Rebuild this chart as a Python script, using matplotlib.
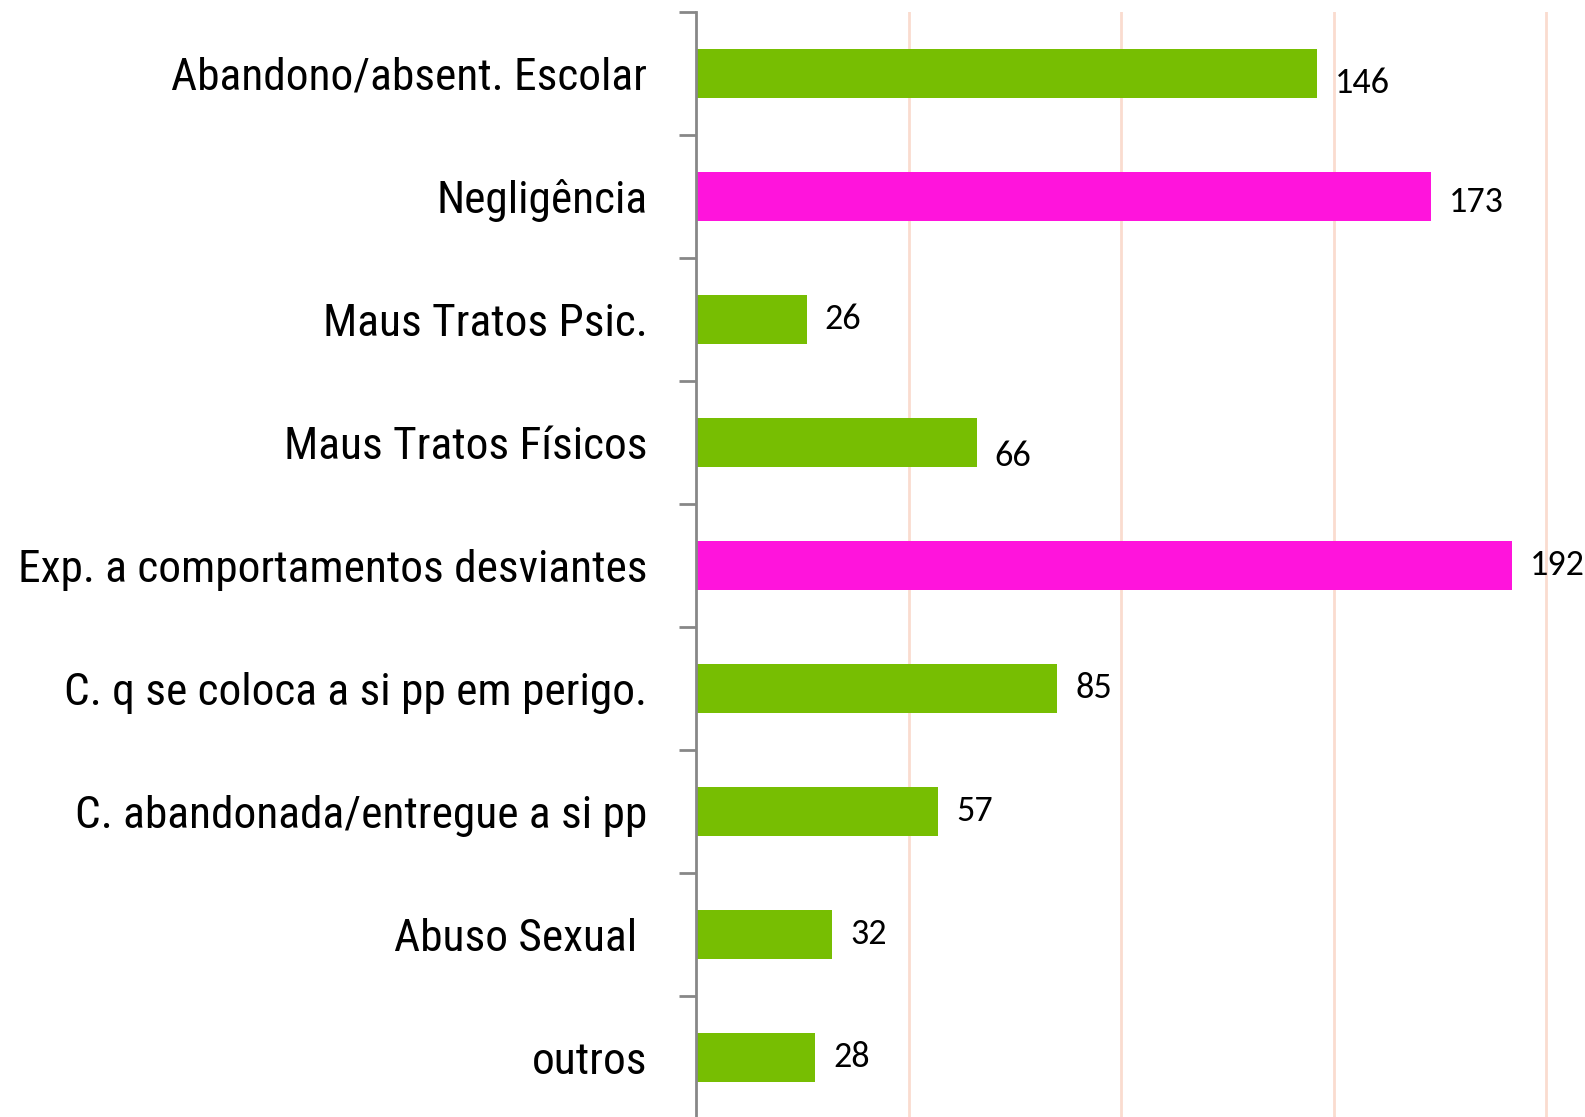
import matplotlib
matplotlib.use("Agg")
import matplotlib.pyplot as plt
from matplotlib import font_manager as fm

categories = [
    "Abandono/absent. Escolar",
    "Negligência",
    "Maus Tratos Psic.",
    "Maus Tratos Físicos",
    "Exp. a comportamentos desviantes",
    "C. q se coloca a si pp em perigo.",
    "C. abandonada/entregue a si pp",
    "Abuso Sexual ",
    "outros",
]
values = [146, 173, 26, 66, 192, 85, 57, 32, 28]
highlight = [False, True, False, False, True, False, False, False, False]

GREEN = "#77BE02"
MAGENTA = "#FF14DC"
GRID = "#FADCCF"
AXIS = "#878787"

names = {f.name for f in fm.fontManager.ttflist}
def pick(*cands):
    for c in cands:
        if c in names:
            return [c, "DejaVu Sans"]
    return ["DejaVu Sans"]
LABEL_FONT = pick("Roboto Condensed", "Carlito", "Liberation Sans")
VALUE_FONT = pick("Carlito", "Lato", "Liberation Sans")

W, H = 1585, 1117
fig = plt.figure(figsize=(W / 100, H / 100), dpi=100)
left_px, top_px, slot_px = 696, 12, 123
n = len(categories)
ax = fig.add_axes([left_px / W, 1 - (top_px + n * slot_px) / H,
                   (W - left_px) / W, n * slot_px / H])

ypos = list(range(n))
colors = [MAGENTA if h else GREEN for h in highlight]
ax.barh(ypos, values, height=0.4, color=colors, zorder=3)

px_per_unit = 4.25
ax.set_xlim(0, (W - left_px) / px_per_unit)
ax.set_ylim(n - 0.5, -0.5)

ax.set_xticks([50, 100, 150, 200])
ax.tick_params(axis="x", length=0, labelbottom=False)
ax.grid(axis="x", color=GRID, linewidth=2.0, zorder=0)

for s in ["top", "right", "bottom"]:
    ax.spines[s].set_visible(False)
ax.spines["left"].set_color(AXIS)
ax.spines["left"].set_linewidth(2)
ax.spines["left"].set_zorder(4)

# fit label size so the widest label spans about 630 px like the reference
renderer = fig.canvas.get_renderer()
widest = 0
for c in categories:
    probe = fig.text(0, 0, c, fontsize=33, family=LABEL_FONT)
    widest = max(widest, probe.get_window_extent(renderer).width)
    probe.remove()
label_size = min(40, 33 * 630 / widest)

ax.set_yticks(ypos)
ax.set_yticklabels(categories, fontsize=label_size, family=LABEL_FONT, color="black")
ax.tick_params(axis="y", which="major", length=0, pad=35)
ax.set_yticks([i - 0.5 for i in range(n + 1)], minor=True)
ax.tick_params(axis="y", which="minor", length=12, width=2, color=AXIS, direction="out")

label_dy = [-7, -4, 0, -10, 0, 0, 0, 0, 0]
for y, v, dy in zip(ypos, values, label_dy):
    ax.annotate(str(v), (v, y), xytext=(13, dy), textcoords="offset points",
                ha="left", va="center", fontsize=26, family=VALUE_FONT, color="black")

fig.savefig("out.png", dpi=100)
